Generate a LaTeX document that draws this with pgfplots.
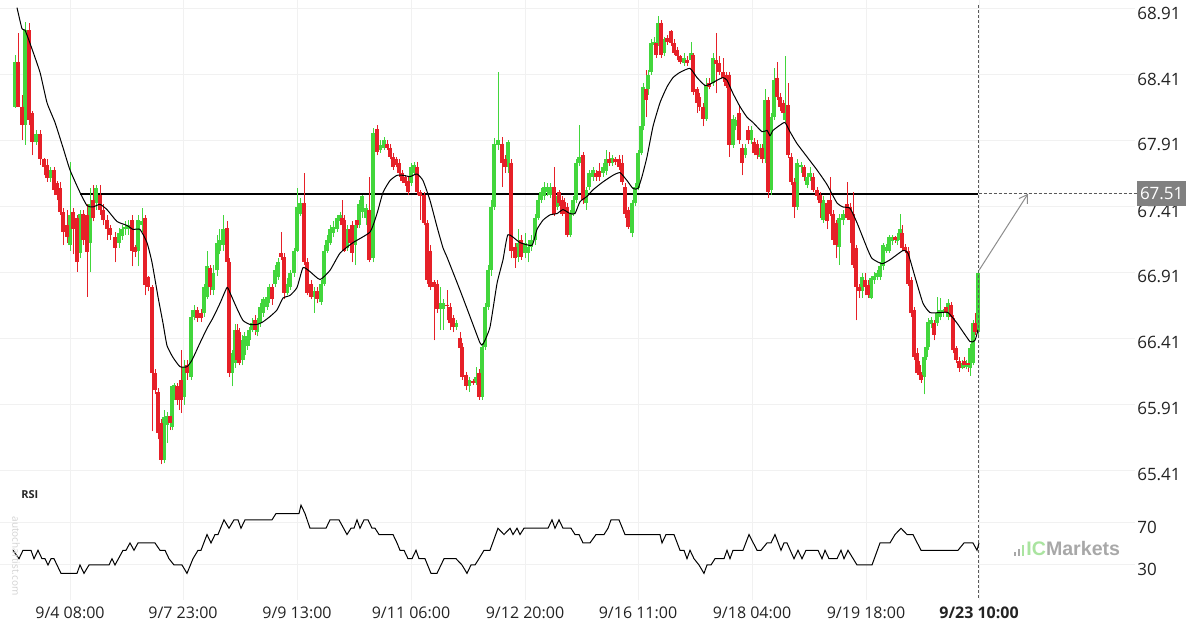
\documentclass[border=0pt]{standalone}
\usepackage{fontspec}
\setmainfont{Open Sans}
\newfontfamily\logofont{Liberation Sans}
\usepackage{pgfplots}
\usepackage{pgfplotstable}
\pgfplotsset{compat=1.18}
\usetikzlibrary{arrows.meta}
\definecolor{cgreen}{RGB}{66,214,60}
\definecolor{cred}{RGB}{230,32,40}
\definecolor{gridc}{RGB}{241,241,241}
\definecolor{tickc}{RGB}{35,35,35}
\definecolor{icg}{RGB}{170,228,160}
\definecolor{icgrey}{RGB}{168,168,168}

\pgfplotstableread{
x o h l c
15 68.17 68.56 68.16 68.51
18 68.51 68.73 68.22 68.17
22 68.17 68.26 67.92 68.03
25 68.03 68.81 67.88 68.75
29 68.75 68.80 68.03 68.07
32 68.12 68.14 67.80 67.90
36 67.90 67.99 67.88 67.96
40 67.96 67.99 67.73 67.77
44 67.77 67.78 67.65 67.71
47 67.73 67.77 67.60 67.63
50 67.63 67.71 67.60 67.69
54 67.69 67.71 67.50 67.54
57 67.59 67.61 67.46 67.50
60 67.55 67.60 67.35 67.37
63 67.37 67.40 67.12 67.22
67 67.27 67.39 67.14 67.18
70 67.12 67.75 67.08 67.35
73 67.37 67.40 67.05 67.24
77 67.33 67.35 66.92 66.99
80 67.06 67.39 67.02 67.36
83 67.36 67.39 67.12 67.16
87 67.35 67.43 66.73 67.07
90 67.14 67.55 66.92 67.43
93 67.46 67.58 67.30 67.33
96 67.44 67.58 67.39 67.55
100 67.50 67.58 67.35 67.39
103 67.39 67.43 67.27 67.31
107 67.31 67.35 67.16 67.24
110 67.25 67.27 67.16 67.20
115 67.18 67.22 66.99 67.10
119 67.14 67.25 67.10 67.21
122 67.19 67.27 67.16 67.24
125 67.24 67.30 67.20 67.26
128 67.24 67.31 67.20 67.27
132 67.31 67.35 66.96 67.08
135 67.11 67.12 67.03 67.07
138 67.08 67.35 66.96 67.31
142 67.27 67.40 67.22 67.30
145 67.33 67.35 66.74 66.82
148 66.88 66.89 66.77 66.80
152 66.80 66.82 65.71 66.15
155 66.15 66.18 65.99 66.02
158 66.01 66.04 65.65 65.70
161 65.77 65.80 65.46 65.49
164 65.49 65.87 65.47 65.82
167 65.76 65.86 65.62 65.83
170 65.83 65.86 65.72 65.77
172 65.74 66.06 65.72 66.05
174 65.99 66.08 65.95 66.06
177 66.05 66.08 65.91 65.95
179 66.02 66.06 65.87 65.95
181 66.10 66.33 65.85 65.95
184 65.97 66.25 65.91 66.20
187 66.21 66.25 66.10 66.15
191 66.12 66.63 66.10 66.58
194 66.58 66.67 66.55 66.63
197 66.63 66.65 66.54 66.57
201 66.61 66.64 66.54 66.57
204 66.61 66.83 66.58 66.80
207 66.73 67.08 66.71 66.96
210 66.95 66.97 66.74 66.80
213 66.78 66.97 66.74 66.91
217 66.93 67.20 66.89 67.14
219 67.08 67.24 67.05 67.16
223 67.12 67.35 67.08 67.24
227 67.25 67.30 66.97 66.99
229 66.99 67.02 66.12 66.15
232 66.15 66.33 66.05 66.30
235 66.23 66.52 66.19 66.48
237 66.48 66.52 66.23 66.25
239 66.46 66.49 66.21 66.23
242 66.25 66.44 66.21 66.40
244 66.29 66.46 66.25 66.43
247 66.36 66.48 66.33 66.43
249 66.40 66.50 66.36 66.48
252 66.48 66.57 66.46 66.53
255 66.55 66.59 66.44 66.48
257 66.46 66.57 66.43 66.53
260 66.53 66.68 66.50 66.65
263 66.61 66.73 66.58 66.71
267 66.65 66.76 66.63 66.73
269 66.71 66.83 66.68 66.80
272 66.80 66.83 66.67 66.71
275 66.83 66.97 66.80 66.93
278 66.88 67.02 66.86 66.99
281 67.06 67.22 67.01 67.03
284 67.03 67.06 66.71 66.76
287 66.76 66.87 66.74 66.83
290 66.80 66.93 66.78 66.91
294 66.91 67.10 66.88 67.08
297 67.08 67.55 67.07 67.41
300 67.36 67.48 67.34 67.44
304 67.44 67.67 66.97 66.99
307 66.99 67.02 66.74 66.76
311 66.83 66.86 66.71 66.73
314 66.73 66.80 66.61 66.77
317 66.77 66.80 66.68 66.71
321 66.69 66.86 66.67 66.83
324 66.83 67.12 66.81 67.08
327 67.08 67.20 67.06 67.16
330 67.14 67.27 67.12 67.24
333 67.21 67.30 67.18 67.26
337 67.24 67.35 67.22 67.33
340 67.30 67.37 67.27 67.35
342 67.33 67.46 67.25 67.27
344 67.31 67.35 67.07 67.08
347 67.10 67.27 67.08 67.24
350 67.24 67.26 67.11 67.14
352 67.27 67.30 66.99 67.06
355 67.12 67.31 66.97 67.27
357 67.31 67.33 67.25 67.27
359 67.27 67.46 67.25 67.43
362 67.37 67.50 67.33 67.49
366 67.33 67.43 67.27 67.40
369 67.39 67.64 66.99 67.01
373 67.02 68.01 66.99 67.97
377 68.00 68.03 67.80 67.83
380 67.84 67.92 67.82 67.88
384 67.86 67.94 67.84 67.92
387 67.89 67.92 67.84 67.86
390 67.86 67.89 67.77 67.79
393 67.79 67.82 67.69 67.71
396 67.77 67.79 67.71 67.73
399 67.74 67.77 67.64 67.67
402 67.67 67.69 67.59 67.61
405 67.64 67.65 67.57 67.59
408 67.61 67.64 67.50 67.52
411 67.59 67.74 67.57 67.71
414 67.67 67.75 67.65 67.73
417 67.71 67.75 67.50 67.52
420 67.52 67.54 67.31 67.49
424 67.50 67.52 67.27 67.29
427 67.29 67.31 66.83 66.86
430 67.08 67.12 66.78 66.80
434 66.84 66.86 66.40 66.80
437 66.83 66.86 66.61 66.64
440 66.64 66.80 66.48 66.68
443 66.64 66.71 66.48 66.68
447 66.67 66.78 66.55 66.66
450 66.65 66.68 66.48 66.53
453 66.57 66.59 66.46 66.50
456 66.50 66.55 66.48 66.53
460 66.42 66.46 66.31 66.34
462 66.35 66.38 66.10 66.12
466 66.14 66.16 66.02 66.05
469 66.05 66.12 66.01 66.10
473 66.09 66.11 66.06 66.08
476 66.08 66.20 66.06 66.12
479 66.15 66.18 65.95 65.97
482 65.97 66.38 65.95 66.35
485 66.35 66.68 66.33 66.65
488 66.65 66.97 66.63 66.93
491 66.93 67.46 66.89 67.41
494 67.41 67.93 67.39 67.89
498 67.88 68.43 67.84 67.92
502 67.89 67.94 67.56 67.74
505 67.77 67.80 67.67 67.71
508 67.71 67.92 67.67 67.90
511 67.74 67.77 67.02 67.08
515 67.11 67.14 66.95 67.02
518 67.03 67.24 66.99 67.14
521 67.16 67.20 67.01 67.03
525 67.06 67.21 67.02 67.14
528 67.06 67.16 66.99 67.11
531 67.11 67.20 67.08 67.16
535 67.16 67.36 67.12 67.33
538 67.33 67.50 67.31 67.46
541 67.46 67.55 67.44 67.52
544 67.49 67.60 67.46 67.56
547 67.52 67.59 67.49 67.56
550 67.50 67.59 67.48 67.56
554 67.56 67.71 67.34 67.36
557 67.41 67.52 67.39 67.49
559 67.52 67.54 67.42 67.44
562 67.46 67.49 67.34 67.36
564 67.45 67.48 67.36 67.39
567 67.41 67.44 67.18 67.20
570 67.20 67.39 67.18 67.36
573 67.36 67.49 67.34 67.46
576 67.46 67.77 67.44 67.74
579 67.74 68.03 67.72 67.79
583 67.80 67.83 67.43 67.46
586 67.44 67.56 67.39 67.54
589 67.56 67.69 67.54 67.67
593 67.64 67.71 67.61 67.69
596 67.67 67.69 67.61 67.64
599 67.68 67.74 67.61 67.64
603 67.67 67.74 67.64 67.71
606 67.68 67.84 67.65 67.77
609 67.77 67.83 67.72 67.74
612 67.74 67.80 67.72 67.78
615 67.77 67.79 67.73 67.75
619 67.77 67.80 67.69 67.71
622 67.74 67.80 67.58 67.60
625 67.56 67.59 67.33 67.36
628 67.39 67.41 67.24 67.26
632 67.21 67.46 67.18 67.44
635 67.44 67.59 67.42 67.56
638 67.55 67.84 67.54 67.82
641 67.82 68.05 67.80 68.02
643 68.02 68.35 67.99 68.32
646 68.30 68.45 68.09 68.22
648 68.30 68.45 68.26 68.41
651 68.43 68.68 68.41 68.65
654 68.64 68.70 68.61 68.66
656 68.65 68.68 68.54 68.56
658 68.65 68.86 68.63 68.80
661 68.80 68.83 68.54 68.56
664 68.58 68.70 68.55 68.68
667 68.69 68.71 68.64 68.66
671 68.74 68.75 68.63 68.65
674 68.65 68.68 68.56 68.58
677 68.60 68.62 68.52 68.55
680 68.55 68.56 68.49 68.51
684 68.50 68.58 68.48 68.54
687 68.52 68.55 68.48 68.50
691 68.52 68.66 68.50 68.58
693 68.56 68.58 68.26 68.28
697 68.30 68.32 68.12 68.20
699 68.24 68.27 68.14 68.17
703 68.17 68.20 68.02 68.08
706 68.08 68.39 68.06 68.33
709 68.35 68.39 68.30 68.32
713 68.35 68.58 68.33 68.54
716 68.52 68.73 68.27 68.49
719 68.50 68.55 68.41 68.43
723 68.43 68.54 68.36 68.39
726 68.41 68.43 68.31 68.33
729 68.41 68.43 67.79 67.88
733 67.88 68.11 67.86 68.08
735 68.02 68.09 67.99 68.07
739 68.12 68.18 67.89 67.92
742 67.86 67.89 67.65 67.74
745 67.80 67.89 67.78 67.86
748 67.99 68.02 67.89 67.92
751 67.92 68.02 67.89 67.99
754 67.90 67.93 67.80 67.82
757 67.89 67.92 67.77 67.80
760 67.79 67.89 67.77 67.86
762 67.86 67.89 67.74 67.77
765 67.77 68.30 67.74 68.22
768 68.22 68.24 67.48 67.52
771 67.54 68.12 67.50 68.09
774 68.09 68.46 68.07 68.37
777 68.39 68.51 68.22 68.24
780 68.24 68.27 68.14 68.17
783 68.20 68.22 68.10 68.12
785 68.07 68.55 68.05 68.12
788 68.18 68.35 67.78 67.80
791 67.79 67.82 67.58 67.60
794 67.60 67.63 67.33 67.41
797 67.41 67.77 67.39 67.74
801 67.71 67.75 67.67 67.73
804 67.71 67.73 67.61 67.64
807 67.58 67.67 67.55 67.64
810 67.64 67.71 67.61 67.67
813 67.64 67.67 67.52 67.54
817 67.54 67.56 67.46 67.49
820 67.50 67.52 67.33 67.44
823 67.31 67.49 67.29 67.46
827 67.44 67.46 67.24 67.30
830 67.46 67.64 67.34 67.36
833 67.36 67.39 67.12 67.16
836 67.29 67.31 67.02 67.12
839 67.11 67.36 66.97 67.33
843 67.31 67.39 67.27 67.36
847 67.43 67.60 67.31 67.33
850 67.41 67.44 67.14 67.31
853 67.36 67.52 66.95 66.97
856 67.10 67.12 66.55 66.80
859 66.80 66.83 66.72 66.77
862 66.77 66.91 66.72 66.88
865 66.86 66.91 66.74 66.80
868 66.82 66.86 66.72 66.74
871 66.72 66.89 66.71 66.87
874 66.86 66.92 66.83 66.89
877 66.88 66.93 66.86 66.91
880 66.88 66.99 66.86 66.96
883 66.96 67.14 66.93 67.12
886 67.08 67.13 67.06 67.11
889 67.08 67.20 67.06 67.18
892 67.15 67.20 67.12 67.18
895 67.18 67.19 67.14 67.16
897 67.15 67.21 67.12 67.18
900 67.16 67.36 67.14 67.24
902 67.21 67.27 67.08 67.10
905 67.11 67.13 67.06 67.08
908 67.08 67.11 66.81 66.83
911 66.86 66.88 66.58 66.61
914 66.63 66.65 66.25 66.27
917 66.30 66.34 66.14 66.15
919 66.21 66.24 66.11 66.14
921 66.14 66.16 66.08 66.10
924 66.12 66.30 65.99 66.27
926 66.27 66.38 66.25 66.35
928 66.35 66.57 66.33 66.54
931 66.52 66.58 66.49 66.55
934 66.53 66.55 66.40 66.44
937 66.53 66.73 66.51 66.61
940 66.58 66.72 66.55 66.63
943 66.61 66.64 66.58 66.63
946 66.65 66.67 66.58 66.61
948 66.58 66.71 66.55 66.68
951 66.67 66.69 66.55 66.58
953 66.57 66.59 66.30 66.33
956 66.34 66.36 66.23 66.25
959 66.24 66.27 66.16 66.19
962 66.19 66.25 66.18 66.23
964 66.24 66.27 66.19 66.21
966 66.20 66.25 66.18 66.23
968 66.23 66.25 66.16 66.21
970 66.19 66.37 66.13 66.34
973 66.23 66.55 66.21 66.53
975 66.53 66.61 66.44 66.46
978 66.46 66.93 66.44 66.91
}\candles

\begin{document}
\begin{tikzpicture}
\begin{axis}[
  at={(0pt,75pt)}, anchor=south west,
  scale only axis, width=567.5pt, height=240pt,
  xmin=0, xmax=1135, ymin=65.3416, ymax=68.978,
  axis line style={draw=none}, major tick length=0pt,
  xtick={70,183,297,411,525,638,752,866,979}, xticklabels={},
  ytick={65.41,65.91,66.41,66.91,67.41,67.91,68.41,68.91},
  yticklabels={65.41,65.91,66.41,66.91,67.41,67.91,68.41,68.91},
  yticklabel pos=right,
  yticklabel style={anchor=west, xshift=-2.4pt, yshift=-2pt, font=\fontsize{8.5}{10}\selectfont, text=tickc},
  grid=major, major grid style={gridc, line width=0.5pt},
  clip=false,
]
% resistance line
\draw[black, line width=1.1pt] (axis cs:80,67.51) -- (axis cs:978,67.51);
% wicks (low to high)
\addplot[cgreen, line width=0.5pt, mark=none, forget plot,
  quiver={u=0, v=\thisrow{h}-\thisrow{l}},
  x filter/.expression={\thisrow{c}>=\thisrow{o} ? x : nan}]
  table[x=x, y=l] {\candles};
\addplot[cred, line width=0.5pt, mark=none, forget plot,
  quiver={u=0, v=\thisrow{h}-\thisrow{l}},
  x filter/.expression={\thisrow{c}<\thisrow{o} ? x : nan}]
  table[x=x, y=l] {\candles};
% bodies (open to close)
\addplot[cgreen, line width=1.55pt, mark=none, forget plot,
  quiver={u=0, v=\thisrow{c}-\thisrow{o}},
  x filter/.expression={\thisrow{c}>=\thisrow{o} ? x : nan}]
  table[x=x, y=o] {\candles};
\addplot[cred, line width=1.55pt, mark=none, forget plot,
  quiver={u=0, v=\thisrow{c}-\thisrow{o}},
  x filter/.expression={\thisrow{c}<\thisrow{o} ? x : nan}]
  table[x=x, y=o] {\candles};
% moving average
\addplot[black, line width=0.5pt, smooth, tension=0.3, mark=none] coordinates {
(17,68.92)(22,68.76)(25,68.75)(30,68.65)(40,68.43)(47,68.20)(55,68.05)(63,67.86)(70,67.69)(80,67.52)
(87,67.42)(93,67.41)(100,67.43)(107,67.39)(117,67.30)(127,67.27)(133,67.24)(140,67.24)(147,67.14)(152,66.99)
(158,66.73)(163,66.53)(167,66.36)(173,66.27)(180,66.20)(187,66.20)(192,66.25)(200,66.38)(207,66.49)(213,66.57)
(220,66.68)(227,66.80)(230,66.76)(237,66.64)(243,66.55)(250,66.52)(257,66.52)(263,66.54)(270,66.58)(277,66.63)
(283,66.72)(290,66.74)(297,66.80)(303,66.95)(310,66.92)(320,66.86)(330,66.93)(340,67.06)(353,67.14)(370,67.22)
(377,67.36)(383,67.52)(390,67.61)(397,67.65)(403,67.65)(410,67.64)(417,67.66)(423,67.61)(430,67.46)(437,67.26)
(443,67.10)(447,67.03)(460,66.78)(470,66.58)(480,66.38)(483,66.37)(490,66.50)(497,66.83)(503,67.01)(508,67.20)
(520,67.14)(532,67.12)(537,67.24)(543,67.31)(550,67.35)(557,67.36)(563,67.39)(570,67.36)(575,67.36)(580,67.45)
(587,67.49)(593,67.54)(603,67.60)(613,67.65)(620,67.67)(627,67.61)(633,67.55)(638,67.55)(642,67.64)(647,67.79)
(653,68.02)(660,68.20)(667,68.32)(673,68.39)(680,68.43)(690,68.46)(697,68.39)(705,68.33)(710,68.34)(717,68.37)
(723,68.39)(727,68.37)(733,68.27)(740,68.17)(747,68.09)(753,68.05)(762,67.98)(767,67.99)(770,67.95)(773,67.99)
(780,68.03)(785,68.05)(790,67.98)(797,67.89)(807,67.79)(817,67.69)(827,67.58)(837,67.44)(843,67.41)(850,67.40)
(857,67.29)(867,67.10)(872,67.02)(882,66.98)(890,67.01)(903,67.08)(908,67.06)(915,66.88)(923,66.68)(930,66.61)
(940,66.61)(948,66.61)(957,66.53)(970,66.39)(975,66.40)(978,66.48)
};
% current-time marker, projection and label
\draw[black!65, line width=0.4pt, dash pattern=on 1.5pt off 1pt] (axis cs:978.5,68.94) -- (axis cs:978.5,64.448);
\draw[black!65, line width=0.4pt, dash pattern=on 1.5pt off 1pt] (axis cs:978.5,67.51) -- (axis cs:1137,67.51);
\draw[black!45, line width=0.5pt, -{Straight Barb[length=4pt,width=5pt]}] (axis cs:979,66.93) -- (axis cs:1028,67.51);
\node[fill=black!50, text=white, font=\fontsize{8.5}{10}\selectfont, inner xsep=1.3pt, inner ysep=0pt,
  minimum height=12.5pt, anchor=west] at (axis cs:1137,67.51) {67.51};
\end{axis}

\begin{axis}[
  at={(0pt,15pt)}, anchor=south west,
  scale only axis, width=567.5pt, height=60pt,
  xmin=0, xmax=1135, ymin=-3.333, ymax=110.95,
  axis line style={draw=none}, major tick length=0pt,
  xtick={70,183,297,411,525,638,752,866,979},
  xticklabels={9/4 08:00,9/7 23:00,9/9 13:00,9/11 06:00,9/12 20:00,9/16 11:00,9/18 04:00,9/19 18:00,\textbf{9/23 10:00}},
  xticklabel style={font=\fontsize{8}{10}\selectfont, text=tickc},
  ytick={30,70}, yticklabels={30,70},
  yticklabel pos=right,
  yticklabel style={anchor=west, xshift=-2.4pt, yshift=-2pt, font=\fontsize{8.5}{10}\selectfont, text=tickc},
  grid=major, major grid style={gridc, line width=0.5pt},
  clip=false,
]
\addplot[black, line width=0.5pt, mark=none] coordinates {
(13,44)(19,36)(23,44)(31,44)(34,36)(38,44)(42,36)(45,36)(48,30)(51,36)(54,36)(61,22)(77,22)(80,30)(84,22)
(89,30)(109,30)(112,36)(115,30)(123,44)(126,44)(130,51)(134,44)(138,51)(155,51)(160,44)(165,44)(169,36)(174,30)
(182,30)(187,22)(193,36)(198,44)(201,44)(207,59)(211,51)(215,59)(218,59)(224,73)(229,65)(234,73)(238,73)(241,65)
(245,73)(272,73)(276,79)(299,79)(301,87)(305,79)(310,65)(326,65)(330,73)(339,73)(347,59)(351,65)(354,65)(357,73)
(360,65)(364,73)(368,73)(372,65)(375,65)(379,59)(393,59)(397,51)(400,44)(404,44)(408,36)(412,36)(416,44)(419,36)
(425,36)(431,22)(437,22)(444,36)(456,36)(462,30)(467,22)(471,30)(475,30)(479,36)(484,44)(490,44)(498,65)(504,59)
(510,65)(513,59)(517,65)(520,59)(524,65)(548,65)(552,73)(555,65)(559,73)(563,65)(571,65)(575,59)(579,59)(583,51)
(590,51)(596,59)(604,59)(608,65)(611,73)(619,73)(625,59)(660,59)(662,51)(666,59)(674,59)(680,44)(684,44)(687,36)
(690,44)(694,36)(699,30)(704,22)(707,30)(711,30)(715,36)(724,36)(727,44)(730,36)(733,44)(743,44)(749,59)(757,44)
(761,44)(767,51)(771,51)(775,59)(781,44)(784,51)(787,51)(794,36)(798,44)(802,36)(806,44)(818,44)(822,36)(825,44)
(829,36)(837,36)(841,44)(844,36)(848,44)(857,30)(872,30)(880,51)(890,51)(895,59)(901,65)(907,59)(913,59)(921,44)
(958,44)(964,51)(973,51)(977,44)(979,51)
};
\end{axis}

% decorations in pixel coordinates
\begin{scope}[x=0.5pt, y=-0.5pt, yshift=315pt]
\node[anchor=west, inner sep=0pt, font=\fontsize{5.5}{6}\selectfont\bfseries, text=black!85] at (21,495) {RSI};
\node[rotate=-90, inner sep=0pt, text=black!18, font=\fontsize{5}{6}\selectfont] at (16,556) {autochartist.com};
\fill[icgrey] (1014,556) rectangle (1016,552);
\fill[icgrey] (1018,556) rectangle (1020,549);
\fill[icg] (1022,556) rectangle (1024,545);
\node[anchor=base west, inner sep=0pt, font=\logofont\bfseries\fontsize{9.8}{10}\selectfont] at (1026,556)
  {\textcolor{icg}{IC}\textcolor{icgrey}{Markets}};
\end{scope}

\pgfresetboundingbox
\useasboundingbox (0,0) rectangle (600pt,315pt);
\end{tikzpicture}
\end{document}
